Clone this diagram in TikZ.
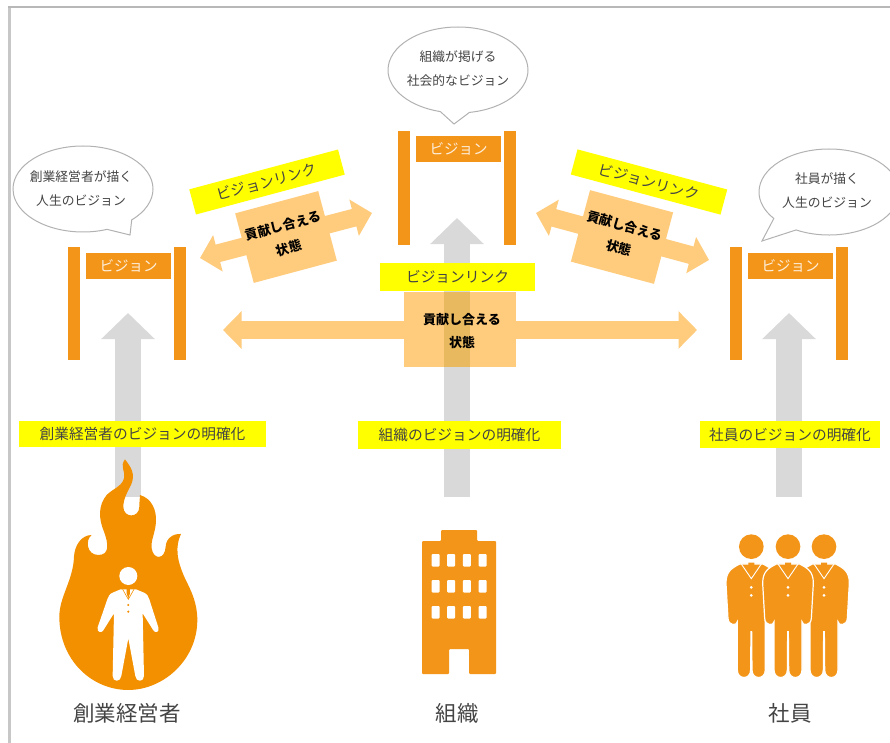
\documentclass[tikz,border=0pt]{standalone}
\usepackage{fontspec}
\setmainfont{Noto Sans CJK JP}
\usetikzlibrary{arrows.meta,shapes.geometric,shapes.callouts}
\definecolor{gatecol}{HTML}{F39519}
\definecolor{flamecol}{HTML}{F39000}
\definecolor{softcol}{HTML}{FFCB7C}
\definecolor{mixcol}{HTML}{E8B95F}
\definecolor{shaftcol}{HTML}{D9D9D9}
\definecolor{inkcol}{HTML}{444444}
\definecolor{markcol}{HTML}{FFFF00}
\tikzset{
  pole/.style={fill=gatecol,minimum width=12.5pt,minimum height=113pt,inner sep=0pt},
  beam/.style={fill=gatecol,text=white!85!gatecol,minimum width=85pt,minimum height=26pt,inner sep=0pt,font=\fontsize{14.5}{16}\selectfont},
  golabel/.style={fill=markcol,text=inkcol,inner sep=0pt,font=\fontsize{14.7}{16}\selectfont},
  sharetext/.style={text=black,inner sep=0pt,align=center,font=\fontsize{13}{23}\selectfont\bfseries},
  sharebox/.style={sharetext,fill=softcol},
  bubble/.style={ellipse callout,draw=black!30,line width=1pt,fill=white,inner sep=0pt,minimum width=140pt,minimum height=86pt,callout pointer arc=24},
  bubbletext/.style={text=inkcol,inner sep=0pt,align=center,font=\fontsize{12.8}{24}\selectfont},
  caption/.style={text=inkcol,inner sep=0pt,font=\fontsize{21.5}{24}\selectfont},
  growarrow/.style={shaftcol,line width=26.5pt,-{Triangle[length=26pt,width=52pt]}},
  sharearrow/.style={softcol,line width=18pt,{Triangle[length=18.5pt,width=36.5pt]}-{Triangle[length=18.5pt,width=36.5pt]}},
  suit/.pic={
    \fill[gatecol,draw=white,line width=1.2pt,pic actions] (-35,192) .. controls (-60,205) and (-76,215) .. (-76,250)
      -- (-70,355) .. controls (-69,378) and (-42,378) .. (-42,365) -- (-42,510)
      .. controls (-42,540) and (-2,540) .. (-2,510) -- (-1,395) -- (1,395) -- (2,510)
      .. controls (2,540) and (42,540) .. (42,510) -- (42,365)
      .. controls (42,378) and (69,378) .. (70,355) -- (76,250)
      .. controls (76,215) and (60,205) .. (35,192) -- cycle;
    \draw[white,line width=.9pt] (-30,192) -- (0,236) -- (30,192);
    \fill[gatecol] (-9,188) -- (9,188) -- (9,205) -- (0,230) -- (-9,205) -- cycle;
    \fill[white] (0,262) circle (4.5) (0,286) circle (4.5);
    \fill[gatecol] (0,140) circle (37);
  }
}
\begin{document}
\begin{tikzpicture}[x=1pt,y=-1pt]
      \useasboundingbox (0,0) rectangle (890,743);
      \fill[black!22] (7.5,7) rectangle (11,743);
      \fill[black!28] (7.5,6.5) rectangle (890,8);

      \coordinate (founderroot) at (128,497);
      \coordinate (foundertop) at (128,313);
      \coordinate (companyroot) at (457,497);
      \coordinate (companytop) at (457,218);
      \coordinate (staffroot) at (789,497);
      \coordinate (stafftop) at (789,313);
      \foreach \from/\to in {founderroot/foundertop,companyroot/companytop,staffroot/stafftop}
      \draw[growarrow] (\from)--(\to);

      \foreach \gate/\px/\py/\qy in {founder/128/266/303.5,company/458/149/188,staff/790/266/303.5}{
        \node[pole] (\gate poleleft) at (\px-54,\qy) {};
        \node[pole] (\gate poleright) at (\px+52,\qy) {};
        \node[beam] (\gate beam) at (\px+.5,\py) {ビジョン};
      }

      \coordinate (linkfounder) at (223,330);
      \coordinate (linkstaff) at (697,330);
      \coordinate (leftfrom) at (200,258);
      \coordinate (leftto) at (372,213);
      \coordinate (rightfrom) at (536,213);
      \coordinate (rightto) at (709,260);
      \foreach \from/\to in {linkfounder/linkstaff,leftfrom/leftto,rightfrom/rightto}
      \draw[sharearrow] (\from)--(\to);

      \node[sharebox,minimum width=112pt,minimum height=75pt] (sharemid) at (460,329.5) {};
      \fill[mixcol] (443.5,292) rectangle (470,367);
      \node[sharetext] (sharemidtext) at (462,331) {貢献し合える\\状態};
      \node[sharebox,rotate=15,minimum width=86pt,minimum height=72pt] (shareleft) at (286,237) {貢献し合える\\状態};
      \node[sharebox,rotate=-15,minimum width=86pt,minimum height=74pt] (shareright) at (622,237) {貢献し合える\\状態};

      \node[golabel,minimum width=155pt,minimum height=28pt] (linkmid) at (457.5,277) {ビジョンリンク};
      \node[golabel,rotate=15,minimum width=154pt,minimum height=26pt] (linkleft) at (267,182) {ビジョンリンク};
      \node[golabel,rotate=-15,minimum width=155pt,minimum height=26pt] (linkright) at (649,182) {ビジョンリンク};

      \node[golabel,minimum width=247pt,minimum height=26pt] (clearfounder) at (142.5,434) {創業経営者のビジョンの明確化};
      \node[golabel,minimum width=203pt,minimum height=28pt] (clearcompany) at (459.5,435) {組織のビジョンの明確化};
      \node[golabel,minimum width=180pt,minimum height=27pt] (clearstaff) at (790,434.5) {社員のビジョンの明確化};

      \node[bubble,callout absolute pointer={(130,235)}] (saysfounder) at (83,189) {};
      \node[bubbletext] (saysfoundertext) at (81,188.5) {創業経営者が描く\\人生のビジョン};
      \node[bubble,callout absolute pointer={(454,124)}] (sayscompany) at (458,70) {};
      \node[bubbletext] (sayscompanytext) at (458,69) {組織が掲げる\\社会的なビジョン};
      \node[bubble,callout absolute pointer={(762,241)}] (saysstaff) at (829,192) {};
      \node[bubbletext] (saysstafftext) at (827,190.5) {社員が描く\\人生のビジョン};

      % flame with the founder inside
      \begin{scope}[shift={(0,450)},scale=.3333]
        \fill[flamecol] (375,28) .. controls (392,50) and (408,72) .. (393,105)
          .. controls (385,122) and (370,145) .. (370,170)
          .. controls (370,205) and (418,205) .. (418,170)
          .. controls (418,155) and (420,145) .. (420,135)
          .. controls (455,145) and (470,180) .. (468,215)
          .. controls (466,250) and (452,270) .. (455,295)
          .. controls (460,330) and (495,330) .. (497,290)
          .. controls (498,265) and (520,250) .. (543,252)
          .. controls (525,290) and (530,330) .. (555,385)
          .. controls (575,425) and (592,460) .. (592,510)
          .. controls (592,630) and (490,720) .. (385,720)
          .. controls (275,720) and (178,630) .. (178,500)
          .. controls (178,440) and (220,390) .. (222,320)
          .. controls (224,285) and (245,255) .. (275,255)
          .. controls (255,270) and (260,315) .. (295,315)
          .. controls (330,315) and (325,280) .. (312,245)
          .. controls (295,205) and (295,165) .. (320,135)
          .. controls (340,115) and (365,110) .. (372,85)
          .. controls (378,65) and (358,50) .. (375,28) -- cycle;
        \fill[white] (385,378) circle (27);
        \fill[white] (362,418) -- (338,428) .. controls (328,432) and (325,440) .. (322,448)
          -- (293,532) .. controls (290,548) and (305,550) .. (310,541) -- (342,490)
          -- (338,678) .. controls (338,697) and (362,697) .. (364,678) -- (385,565)
          -- (406,678) .. controls (408,697) and (432,697) .. (432,678) -- (428,490)
          -- (460,541) .. controls (465,550) and (480,548) .. (475,532)
          -- (448,448) .. controls (445,440) and (442,432) .. (432,428) -- (408,418) -- cycle;
        \draw[flamecol,line width=.6pt] (368,418) -- (385,448) -- (402,418);
        \fill[flamecol] (380,416) -- (390,416) -- (390,430) -- (385,445) -- (380,430) -- cycle;
        \fill[flamecol] (385,465) circle (3.5) (385,485) circle (3.5);
      \end{scope}

      % building
      \begin{scope}[gatecol]
        \fill[rounded corners=1pt] (422,674) -- (422,541) -- (441,541) -- (441,530) -- (477,530) -- (477,541)
          -- (496,541) -- (496,674) -- (469,674) -- (469,649) -- (449,649) -- (449,674) -- cycle;
        \foreach \wx in {431.5,447.2,462.9,478.6}
        \foreach \wy in {554,580,606}
        \fill[white,rounded corners=1pt] (\wx,\wy) rectangle ++(8,12.5);
      \end{scope}

      % three employees
      \pic (staffone) at (751.3,500) [scale=.3333] {suit};
      \pic (stafftwo) at (824,500) [scale=.3333] {suit};
      \pic (staffthree) at (788,500) [scale=.3333] {suit};

      \node[caption] (namefounder) at (127,713) {創業経営者};
      \node[caption] (namecompany) at (457,713) {組織};
      \node[caption] (namestaff) at (790,713) {社員};
\end{tikzpicture}
\end{document}
